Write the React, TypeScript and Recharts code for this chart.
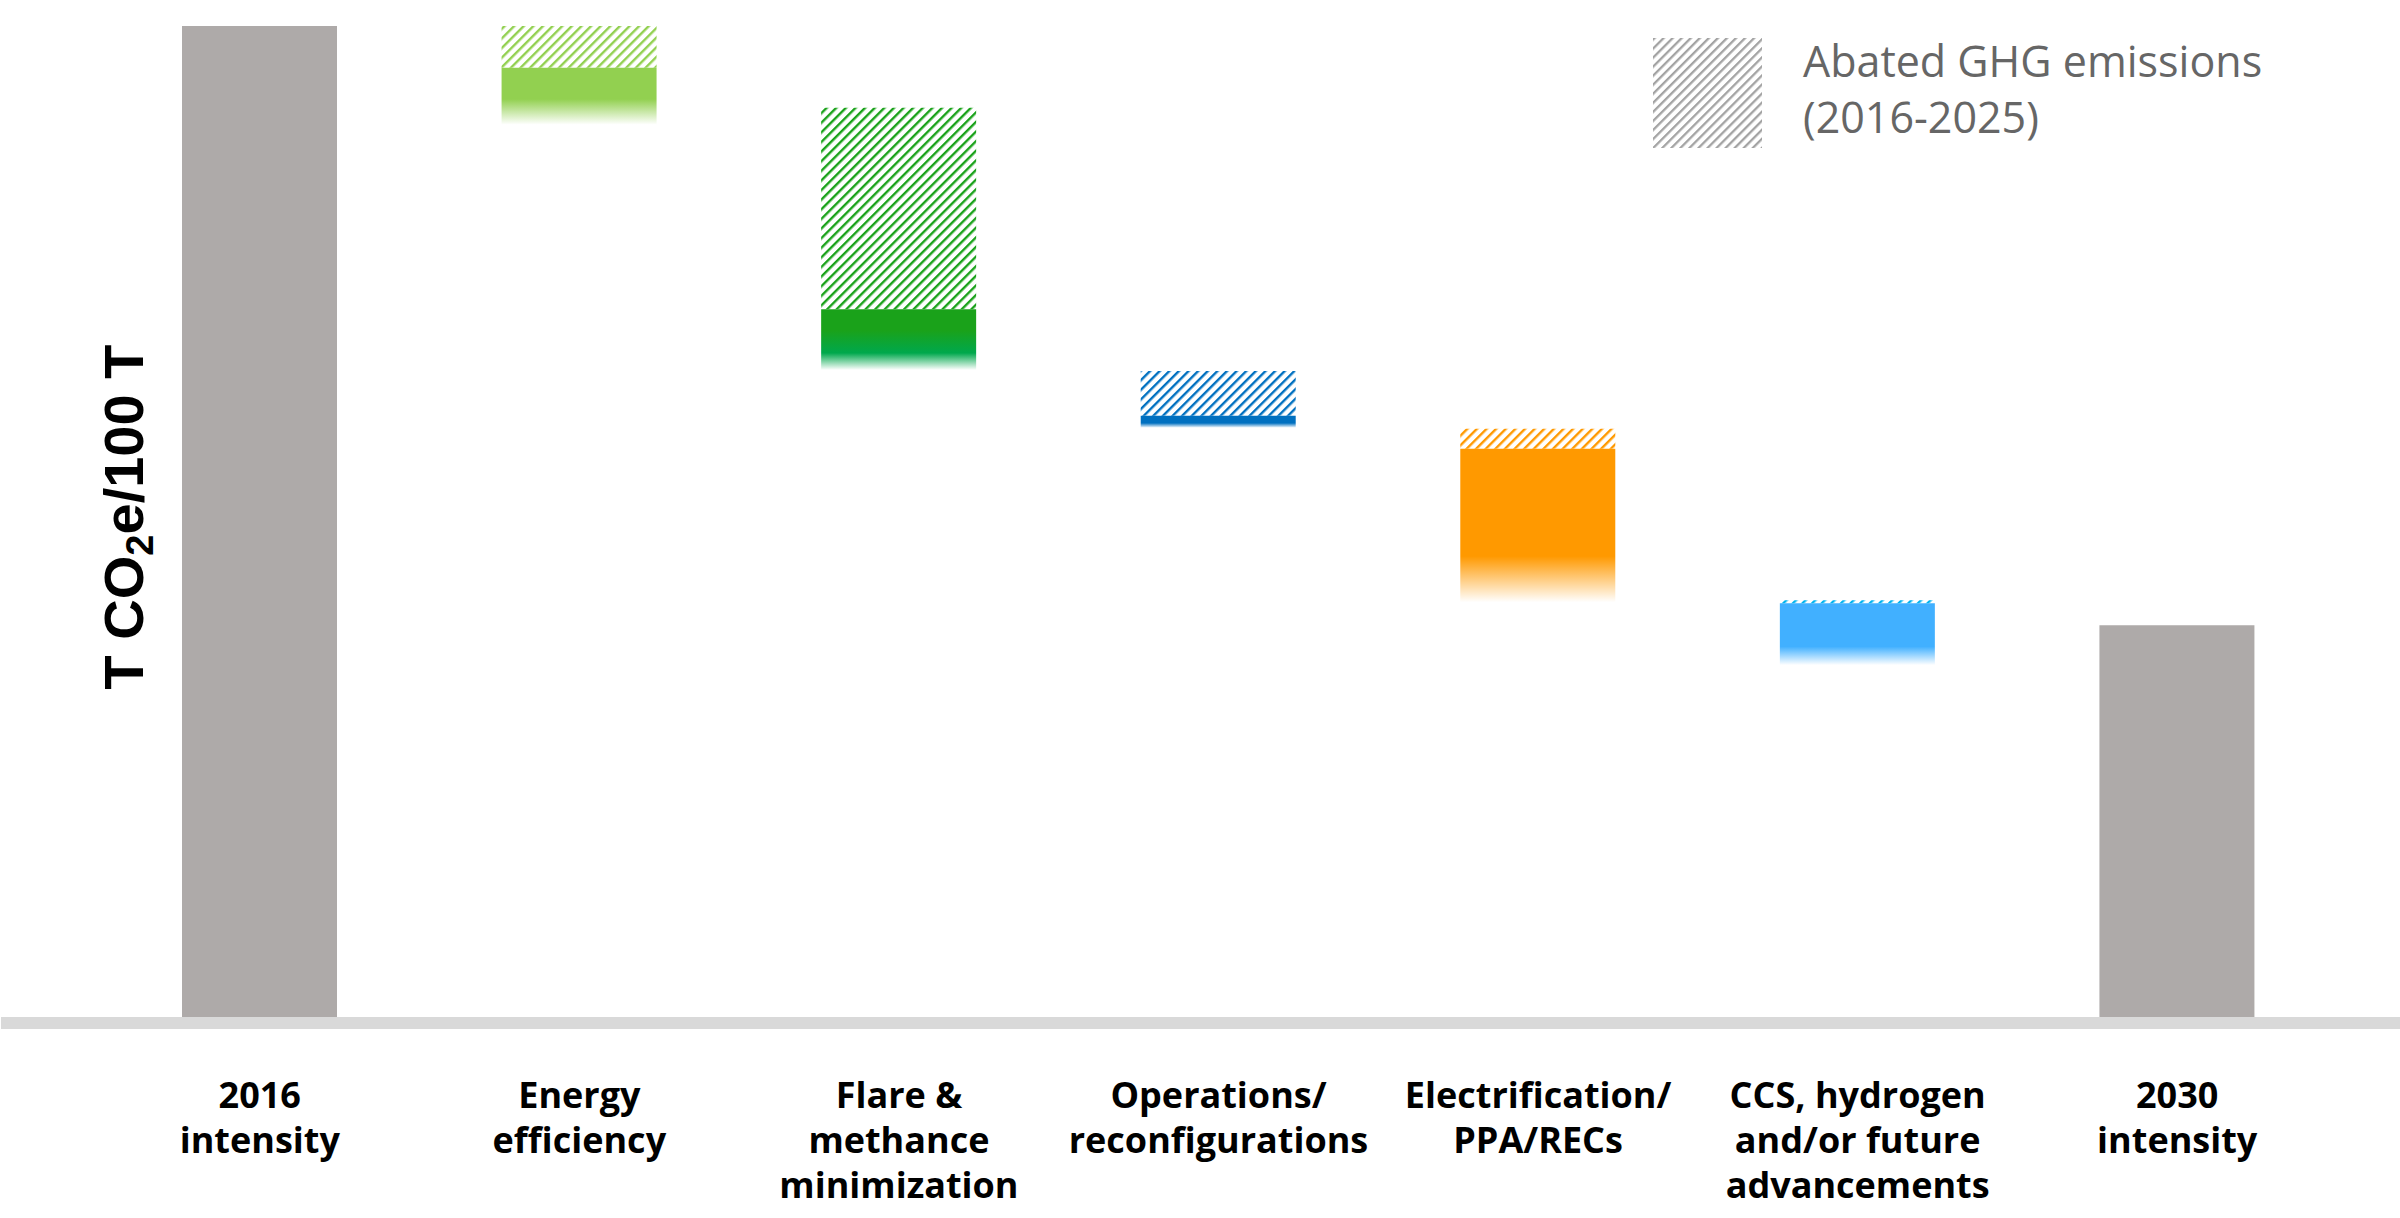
import React from 'react';
import { BarChart, Bar, XAxis, YAxis, Cell, Legend } from 'recharts';

// waterfall steps, values in the same unit as the 2016 bar (= 100)
const categories = [
  '2016 intensity',
  'Energy efficiency',
  'Flare & methance minimization',
  'Operations/ reconfigurations',
  'Electrification/ PPA/RECs',
  'CCS, hydrogen and/or future advancements',
  '2030 intensity',
];
const tickLines = [
  ['2016', 'intensity'],
  ['Energy', 'efficiency'],
  ['Flare &', 'methance', 'minimization'],
  ['Operations/', 'reconfigurations'],
  ['Electrification/', 'PPA/RECs'],
  ['CCS, hydrogen', 'and/or future', 'advancements'],
  ['2030', 'intensity'],
];
const intensity = [100, 0, 0, 0, 0, 0, 39.9];
const stepTop = [0, 100, 91.8, 65.4, 59.6, 42.4, 0];
const abatedBottom = [0, 95.8, 71.6, 60.9, 57.6, 42.1, 0];
const stepBottom = [0, 90.1, 65.5, 59.7, 42.2, 35.9, 0];

const GREY = '#AEAAA9';
const solidColors = [GREY, '#92D050', '#1AA21A', '#0070C0', '#FF9900', '#41B0FF', GREY];
const hatchColors = [GREY, '#92D050', '#1AA21A', '#0070C0', '#FF9900', '#00B4F0', GREY];
// where the solid part starts fading out (fraction of bar height)
const fadeStart = [1, 0.55, 0.72, 0.6, 0.7, 0.7, 1];

const data = categories.map((name, i) => ({
  name,
  base: stepBottom[i],
  intensity: intensity[i],
  planned: abatedBottom[i] - stepBottom[i],
  abated: stepTop[i] - abatedBottom[i],
}));

const CategoryTick = ({ x, y, payload }: any) => {
  const lines = tickLines[categories.indexOf(payload.value)] || [];
  return (
    <text
      x={x}
      y={y}
      textAnchor="middle"
      fontFamily="'Open Sans', sans-serif"
      fontWeight={700}
      fontSize={36}
      fill="#000"
    >
      {lines.map((line, k) => (
        <tspan key={k} x={x} dy={k === 0 ? 85 : 45}>
          {line}
        </tspan>
      ))}
    </text>
  );
};

const AxisTitle = () => (
  <text
    x={143}
    y={517}
    transform="rotate(-90, 143, 517)"
    textAnchor="middle"
    fontFamily="'Liberation Sans', Arial, sans-serif"
    fontWeight={700}
    fontSize={56}
    fill="#000"
  >
    T CO
    <tspan dy={10} fontSize={38}>2</tspan>
    <tspan dy={-10}>e/100 T</tspan>
  </text>
);

const HatchLegend = () => (
  <div style={{ display: 'flex', alignItems: 'flex-start' }}>
    <svg width={109} height={110} style={{ flex: 'none' }}>
      <defs>
        <pattern
          id="hatch-legend"
          patternUnits="userSpaceOnUse"
          width={6.4}
          height={6.4}
          patternTransform="rotate(45)"
        >
          <rect x={0} y={0} width={2.3} height={6.4} fill="#A3A3A3" />
        </pattern>
      </defs>
      <rect x={0} y={0} width={109} height={110} fill="url(#hatch-legend)" />
    </svg>
    <div
      style={{
        marginLeft: 41,
        marginTop: -5,
        fontFamily: "'Open Sans', sans-serif",
        fontWeight: 400,
        fontSize: 43,
        lineHeight: '56px',
        color: '#666666',
        whiteSpace: 'nowrap',
      }}
    >
      Abated GHG emissions
      <br />
      (2016-2025)
    </div>
  </div>
);

export default function App() {
  return (
    <div style={{ width: 2400, height: 1218, background: '#fff' }}>
      <style>{'body { margin: 0; }'}</style>
      <BarChart
        width={2400}
        height={1218}
        data={data}
        margin={{ top: 26, right: 0, bottom: 0, left: 0 }}
        barSize={155}
      >
        <defs>
          {solidColors.map((c, i) => (
            <linearGradient key={`g${i}`} id={`fade-${i}`} x1="0" y1="0" x2="0" y2="1">
              <stop offset={0} stopColor={c} stopOpacity={1} />
              {i === 2 && <stop offset={0.35} stopColor={c} stopOpacity={1} />}
              <stop offset={fadeStart[i]} stopColor={i === 2 ? '#00A84C' : c} stopOpacity={1} />
              <stop offset={1} stopColor={i === 2 ? '#00A84C' : c} stopOpacity={0} />
            </linearGradient>
          ))}
          {hatchColors.map((c, i) => (
            <pattern
              key={`h${i}`}
              id={`hatch-${i}`}
              patternUnits="userSpaceOnUse"
              width={6.8}
              height={6.8}
              patternTransform="rotate(45)"
            >
              <rect x={0} y={0} width={2.4} height={6.8} fill={c} />
            </pattern>
          ))}
        </defs>
        <XAxis
          dataKey="name"
          interval={0}
          tickLine={false}
          tickSize={0}
          tickMargin={0}
          height={195}
          padding={{ left: 99, right: 63 }}
          axisLine={{ stroke: '#D9D9D9', strokeWidth: 12 }}
          tick={<CategoryTick />}
        />
        <YAxis
          width={1}
          domain={[0, 100]}
          tick={false}
          axisLine={false}
          tickLine={false}
          label={<AxisTitle />}
        />
        <Legend
          layout="vertical"
          align="center"
          verticalAlign="middle"
          wrapperStyle={{ position: 'absolute', top: 38, left: 1653, width: 720 }}
          content={() => <HatchLegend />}
        />
        <Bar dataKey="base" stackId="w" fill="transparent" isAnimationActive={false} />
        <Bar dataKey="intensity" stackId="w" fill={GREY} isAnimationActive={false} />
        <Bar dataKey="planned" stackId="w" isAnimationActive={false}>
          {data.map((_, i) => (
            <Cell key={i} fill={`url(#fade-${i})`} />
          ))}
        </Bar>
        <Bar dataKey="abated" stackId="w" isAnimationActive={false}>
          {data.map((_, i) => (
            <Cell key={i} fill={`url(#hatch-${i})`} />
          ))}
        </Bar>
      </BarChart>
    </div>
  );
}
